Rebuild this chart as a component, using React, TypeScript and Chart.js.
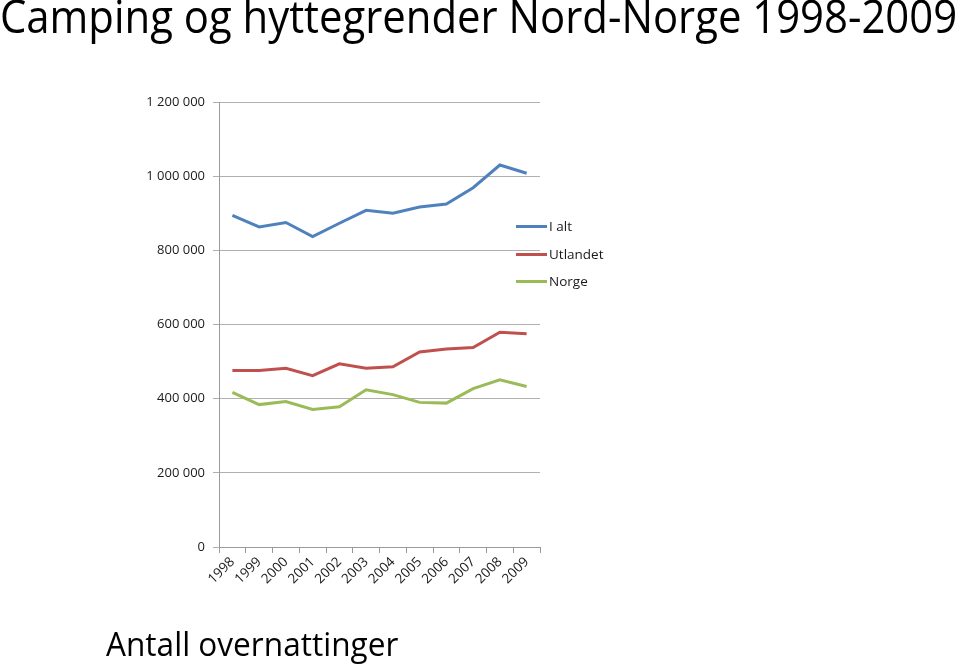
import React, { useEffect, useLayoutEffect, useRef, useState } from "react";
import { Chart, registerables } from "chart.js";

Chart.register(...registerables);

const years = ["1998", "1999", "2000", "2001", "2002", "2003", "2004", "2005", "2006", "2007", "2008", "2009"];
const iAlt = [894000, 863000, 875000, 837000, 873000, 908000, 900000, 917000, 925000, 969000, 1030000, 1008000];
const utlandet = [476000, 476000, 482000, 462000, 494000, 482000, 486000, 526000, 534000, 538000, 579000, 575000];
const norge = [417000, 384000, 392000, 371000, 378000, 424000, 411000, 390000, 388000, 427000, 451000, 433000];
const yTicks = [0, 200000, 400000, 600000, 800000, 1000000, 1200000];

const seriesNames = ["I alt", "Utlandet", "Norge"];
const seriesColors = ["#4F81BD", "#C0504D", "#9BBB59"];

const titleText = "Camping og hyttegrender Nord-Norge 1998-2009";
const subtitleText = "Antall overnattinger";

function fmt(v: number): string {
  return String(v).replace(/\B(?=(\d{3})+(?!\d))/g, " ");
}

function FitText(props: { text: string; width: number; left: number; top: number; size: number }) {
  const ref = useRef<HTMLSpanElement | null>(null);
  const [scale, setScale] = useState(1);
  useLayoutEffect(() => {
    if (ref.current) {
      const w = ref.current.offsetWidth;
      if (w > 0) setScale(props.width / w);
    }
  }, [props.text, props.width]);
  return (
    <span
      ref={ref}
      style={{
        position: "absolute",
        left: props.left,
        top: props.top,
        fontFamily: "'Open Sans', sans-serif",
        fontSize: props.size,
        lineHeight: 1,
        whiteSpace: "nowrap",
        color: "#000",
        transform: `scaleX(${scale})`,
        transformOrigin: "left top",
        display: "inline-block",
      }}
    >
      {props.text}
    </span>
  );
}

export default function App() {
  const canvasRef = useRef<HTMLCanvasElement | null>(null);

  useEffect(() => {
    if (!canvasRef.current) return;
    const data = [iAlt, utlandet, norge];
    const chart = new Chart(canvasRef.current, {
      type: "line",
      data: {
        labels: years,
        datasets: seriesNames.map((name, i) => ({
          label: name,
          data: data[i],
          borderColor: seriesColors[i],
          backgroundColor: seriesColors[i],
          borderWidth: 3,
          pointRadius: 0,
          tension: 0,
          fill: false,
        })),
      },
      options: {
        animation: false,
        responsive: false,
        devicePixelRatio: 1,
        layout: { padding: { top: 102, left: 0, right: 420, bottom: 0 } },
        plugins: { legend: { display: false }, tooltip: { enabled: false }, title: { display: false } },
        scales: {
          x: {
            offset: true,
            grid: { offset: true, drawOnChartArea: false, drawTicks: true, tickLength: 6, color: "#9a9a9a" },
            border: { color: "#9a9a9a", width: 1 },
            ticks: {
              autoSkip: false,
              minRotation: 45,
              maxRotation: 45,
              padding: 1,
              color: "#1a1a1a",
              font: { family: "'Open Sans', sans-serif", size: 13.5, weight: "500" },
            },
            afterFit: (s: any) => {
              s.height = 119;
            },
          },
          y: {
            min: 0,
            max: 1200000,
            afterBuildTicks: (s: any) => {
              s.ticks = yTicks.map((v) => ({ value: v }));
            },
            grid: { color: "#b0b0b0", tickLength: 6, lineWidth: 1 },
            border: { color: "#9a9a9a", width: 1 },
            ticks: {
              padding: 8,
              color: "#1a1a1a",
              font: { family: "'Open Sans', sans-serif", size: 13 },
              callback: (v: any) => fmt(Number(v)),
            },
            afterFit: (s: any) => {
              s.width = 219;
            },
          },
        },
      },
    });
    return () => chart.destroy();
  }, []);

  const legendRows = [226, 254, 281];

  return (
    <div
      style={{
        position: "fixed",
        left: 0,
        top: 0,
        width: 960,
        height: 666,
        overflow: "hidden",
        background: "#fff",
      }}
    >
      <canvas ref={canvasRef} width={960} height={666} style={{ position: "absolute", left: 0, top: 0, width: 960, height: 666 }} />
      <FitText text={titleText} width={957} left={0} top={-8} size={46} />
      <FitText text={subtitleText} width={292} left={106} top={627} size={33} />
      {seriesNames.map((name, i) => (
        <div key={name} style={{ position: "absolute", left: 516, top: legendRows[i] - 10, height: 20, display: "flex", alignItems: "center" }}>
          <div style={{ width: 31, height: 3, background: seriesColors[i] }} />
          <span
            style={{
              marginLeft: 2,
              fontFamily: "'Open Sans', sans-serif",
              fontSize: 13.5,
              color: "#1a1a1a",
              lineHeight: "20px",
            }}
          >
            {name}
          </span>
        </div>
      ))}
    </div>
  );
}
